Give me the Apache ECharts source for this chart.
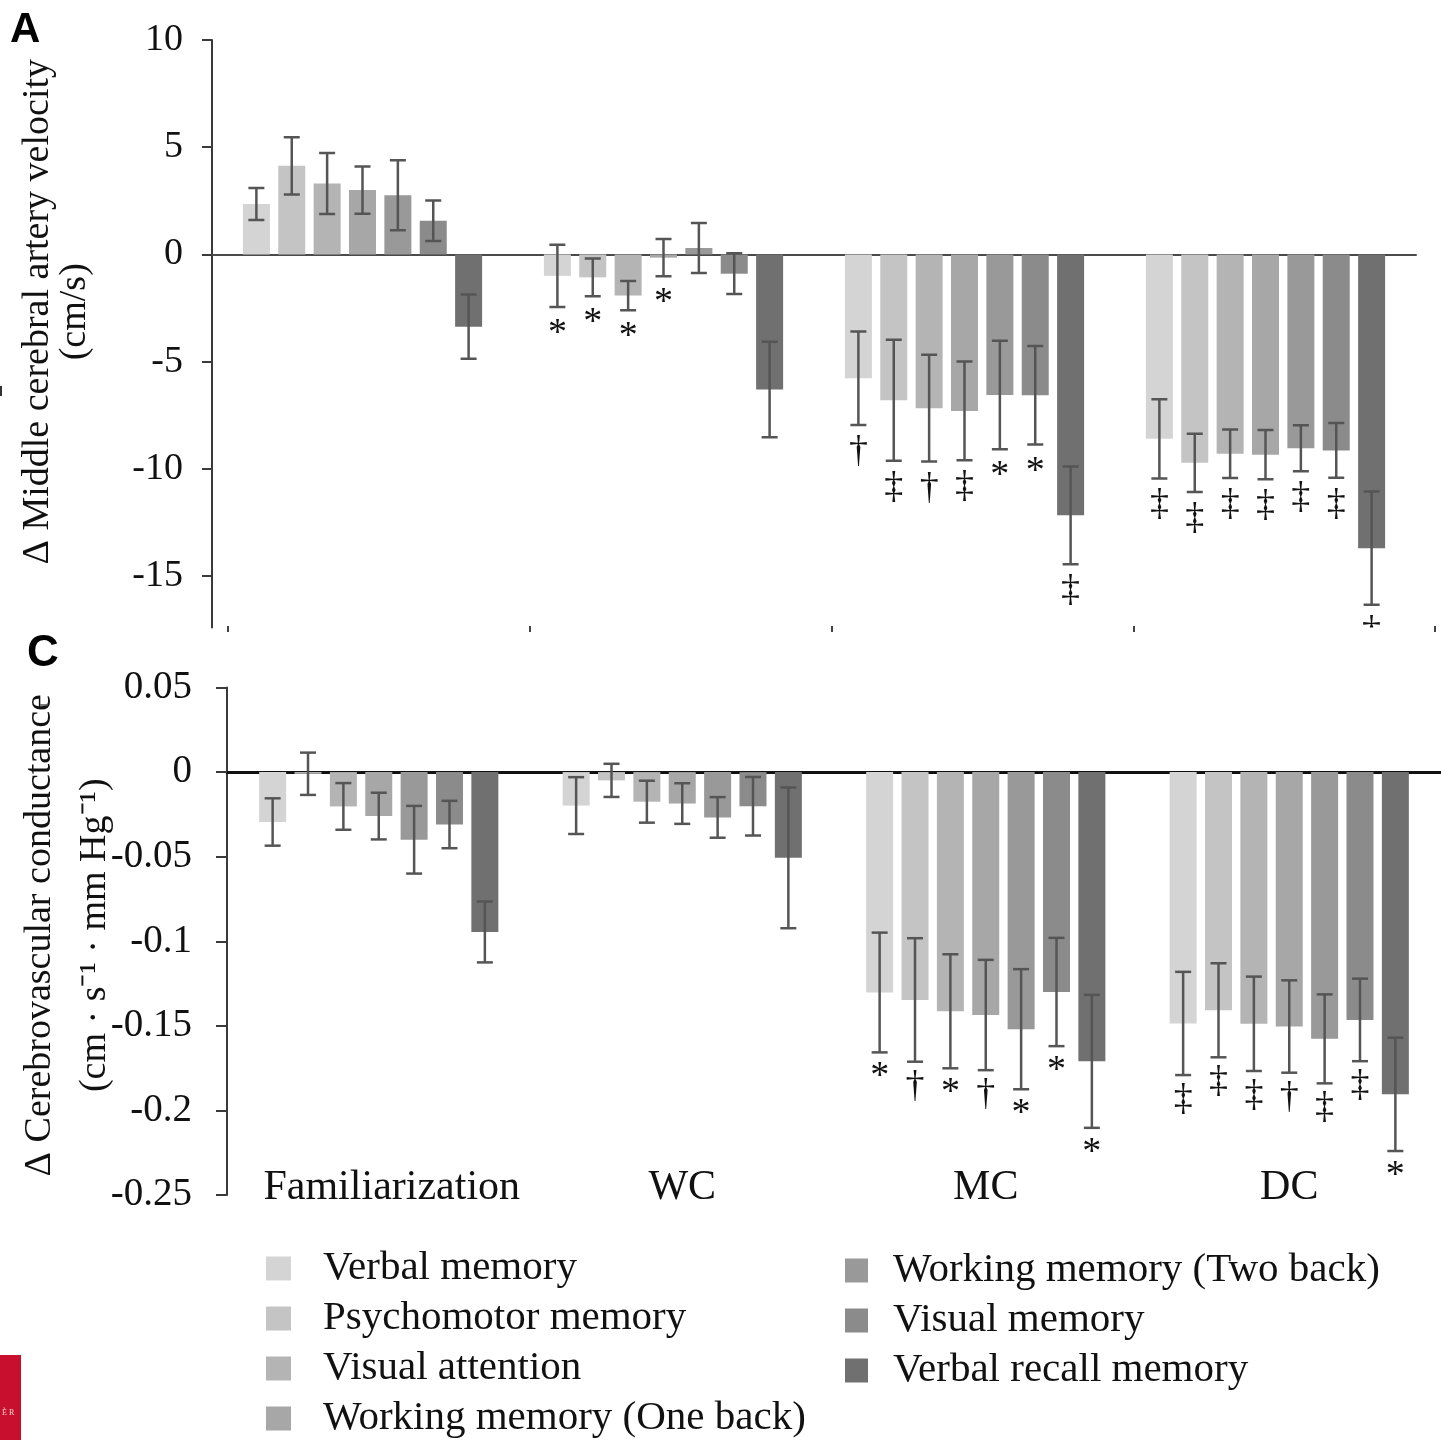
<!DOCTYPE html>
<html><head><meta charset="utf-8">
<script src="https://cdn.jsdelivr.net/npm/echarts@6/dist/echarts.min.js"></script>
<style>html,body{margin:0;padding:0;background:#fff}#c{width:1441px;height:1440px}</style>
</head><body><div id="c"></div>
<script>
// ---------- data ----------
const categories = ['Familiarization', 'WC', 'MC', 'DC'];
const seriesNames = ['Verbal memory', 'Psychomotor memory', 'Visual attention',
  'Working memory (One back)', 'Working memory (Two back)', 'Visual memory', 'Verbal recall memory'];

// Panel A: change in middle cerebral artery velocity (cm/s), rows = series, cols = categories
const mcavMean = [
  [2.35, -1.0, -5.78, -8.6],
  [4.13, -1.07, -6.8, -9.72],
  [3.31, -1.92, -7.17, -9.3],
  [3.0, -0.15, -7.3, -9.34],
  [2.76, 0.3, -6.56, -9.04],
  [1.57, -0.9, -6.57, -9.14],
  [-3.37, -6.3, -12.17, -13.7]
];
const mcavErr = [
  [0.75, 1.45, 2.18, 1.85],
  [1.33, 0.88, 2.82, 1.36],
  [1.42, 0.68, 2.49, 1.13],
  [1.1, 0.87, 2.3, 1.15],
  [1.63, 1.17, 2.53, 1.07],
  [0.95, 0.95, 2.3, 1.28],
  [1.5, 2.23, 2.28, 2.64]
];
const mcavSig = [
  ['', '*', '†', '‡'],
  ['', '*', '‡', '‡'],
  ['', '*', '†', '‡'],
  ['', '*', '‡', '‡'],
  ['', '', '*', '‡'],
  ['', '', '*', '‡'],
  ['', '', '‡', '‡']
];
const mcavTicks = [10, 5, 0, -5, -10, -15];

// Panel C: change in cerebrovascular conductance
const cvcMean = [
  [-0.0295, -0.0198, -0.1303, -0.1486],
  [-0.001, -0.0049, -0.1347, -0.1408],
  [-0.0203, -0.0175, -0.1414, -0.1488],
  [-0.026, -0.0186, -0.1436, -0.1504],
  [-0.04, -0.0268, -0.152, -0.1577],
  [-0.031, -0.0202, -0.13, -0.1465],
  [-0.0945, -0.0507, -0.171, -0.1905]
];
const cvcErr = [
  [0.014, 0.0168, 0.0354, 0.0305],
  [0.0125, 0.0098, 0.0365, 0.0278],
  [0.0138, 0.0124, 0.0337, 0.0279],
  [0.0138, 0.012, 0.0326, 0.0273],
  [0.02, 0.012, 0.0355, 0.0263],
  [0.014, 0.0173, 0.032, 0.0244],
  [0.018, 0.0416, 0.0393, 0.0335]
];
const cvcSig = [
  ['', '', '*', '‡'],
  ['', '', '†', '‡'],
  ['', '', '*', '‡'],
  ['', '', '†', '†'],
  ['', '', '*', '‡'],
  ['', '', '*', '‡'],
  ['', '', '*', '*']
];

// ---------- styles ----------
const barColors = ['#d4d4d4', '#c4c4c4', '#b4b4b4', '#a7a7a7', '#999999', '#8b8b8b', '#707070'];
const SERIF = '"Liberation Serif", "Times New Roman", serif';
const BAR_W = 27, BAR_GAP = 0.31;

function errData(meanArr, errArr) {
  const d = [];
  meanArr.forEach((row, s) => row.forEach((m, c) => d.push([c, s, m, errArr[s][c]])));
  return d;
}
function makeRender(sigArr, gapBelow) {
  return function (params, api) {
    const cat = api.value(0), s = api.value(1), m = api.value(2), e = api.value(3);
    const n = seriesNames.length;
    const step = BAR_W * (1 + BAR_GAP);
    const off = -((n - 1) * step) / 2 + s * step;
    const top = api.coord([cat, m + e]);
    const bot = api.coord([cat, m - e]);
    const x = top[0] + off;
    const cap = 8;
    const st = { stroke: '#555', lineWidth: 2.5 };
    const children = [
      { type: 'line', shape: { x1: x, y1: top[1], x2: x, y2: bot[1] }, style: st },
      { type: 'line', shape: { x1: x - cap, y1: top[1], x2: x + cap, y2: top[1] }, style: st },
      { type: 'line', shape: { x1: x - cap, y1: bot[1], x2: x + cap, y2: bot[1] }, style: st }
    ];
    const mark = sigArr[s][cat];
    if (mark) {
      children.push({ type: 'text', x: x, y: bot[1] + gapBelow,
        style: { text: mark, fill: '#111', fontSize: 38, fontFamily: SERIF, align: 'center', verticalAlign: 'top' } });
    }
    return { type: 'group', children: children };
  };
}

const series = [];
seriesNames.forEach((name, s) => {
  series.push({ type: 'bar', name: name, xAxisIndex: 0, yAxisIndex: 0, data: mcavMean[s],
    barWidth: BAR_W, barGap: (BAR_GAP * 100) + '%', itemStyle: { color: barColors[s] }, silent: true });
});
seriesNames.forEach((name, s) => {
  series.push({ type: 'bar', name: name, xAxisIndex: 1, yAxisIndex: 1, data: cvcMean[s],
    barWidth: BAR_W, barGap: (BAR_GAP * 100) + '%', itemStyle: { color: barColors[s] }, silent: true });
});
series.push({ type: 'custom', name: 'errA', xAxisIndex: 0, yAxisIndex: 0, z: 5, clip: true,
  data: errData(mcavMean, mcavErr), encode: { x: 0, y: 2 }, renderItem: makeRender(mcavSig, 8), silent: true });
series.push({ type: 'custom', name: 'errC', xAxisIndex: 1, yAxisIndex: 1, z: 5,
  data: errData(cvcMean, cvcErr), encode: { x: 0, y: 2 }, renderItem: makeRender(cvcSig, 6), silent: true });

const option = {
  animation: false,
  backgroundColor: '#fff',
  textStyle: { fontFamily: SERIF },
  grid: [
    { left: 212, top: 40, width: 1204, height: 587.5, outerBoundsMode: 'none', containLabel: false },
    { left: 227, top: 687.5, width: 1214, height: 507.5, outerBoundsMode: 'none', containLabel: false },
    { left: 228, top: 600, width: 1207, height: 26, outerBoundsMode: 'none', containLabel: false }
  ],
  xAxis: [
    { type: 'category', gridIndex: 0, data: categories,
      axisLine: { show: true, onZero: true, lineStyle: { color: '#4a4a4a', width: 2 } },
      axisTick: { show: false }, axisLabel: { show: false }, splitLine: { show: false } },
    { type: 'category', gridIndex: 1, data: categories,
      axisLine: { show: true, onZero: true, lineStyle: { color: '#111', width: 3 } },
      axisTick: { show: false }, axisLabel: { show: false }, splitLine: { show: false } },
    { type: 'category', gridIndex: 1, data: categories, position: 'bottom',
      axisLine: { show: false, onZero: false }, axisTick: { show: false },
      axisLabel: { show: true, interval: 0, hideOverlap: false, margin: -28, fontSize: 42, fontFamily: SERIF, color: '#111', verticalAlign: 'top',
        formatter: (v, i) => (i === 0 ? '{f|' + v + '}' : v),
        rich: { f: { fontSize: 42, fontFamily: SERIF, color: '#111', padding: [0, 0, 0, 26] } } } },
    { type: 'category', gridIndex: 2, data: categories, boundaryGap: true,
      axisLine: { show: false, onZero: false },
      axisTick: { show: true, length: 6, lineStyle: { color: '#444', width: 2 } },
      axisLabel: { show: false } }
  ],
  yAxis: [
    { type: 'value', gridIndex: 0, min: -17.4, max: 10,
      axisLine: { show: true, lineStyle: { color: '#3a3a3a', width: 2 } },
      axisTick: { show: true, length: 10, customValues: mcavTicks, lineStyle: { color: '#3a3a3a', width: 2 } },
      axisLabel: { customValues: mcavTicks, margin: 29, fontSize: 38, fontFamily: SERIF, color: '#111' },
      splitLine: { show: false },
      name: 'Δ Middle cerebral artery velocity\n(cm/s)', nameLocation: 'middle', nameRotate: 90, nameGap: 118,
      nameMoveOverlap: false,
      nameTextStyle: { fontSize: 38, fontFamily: SERIF, color: '#111', lineHeight: 37, padding: [0, 0, 0, 44] } },
    { type: 'value', gridIndex: 1, min: -0.25, max: 0.05, interval: 0.05,
      axisLine: { show: true, lineStyle: { color: '#3a3a3a', width: 2 } },
      axisTick: { show: true, length: 11, lineStyle: { color: '#3a3a3a', width: 2 } },
      axisLabel: { margin: 35, fontSize: 39, fontFamily: SERIF, color: '#111' },
      splitLine: { show: false },
      name: 'Δ Cerebrovascular conductance\n(cm · s⁻¹ · mm Hg⁻¹)', nameLocation: 'middle', nameRotate: 90, nameGap: 104,
      nameMoveOverlap: false,
      nameTextStyle: { fontSize: 38, fontFamily: SERIF, color: '#111', lineHeight: 55, padding: [0, 0, 0, 12] } },
    { type: 'value', gridIndex: 2, show: false }
  ],
  legend: [
    { data: seriesNames.slice(0, 4), orient: 'vertical', left: 266, top: 1248, height: 230, itemWidth: 25, itemHeight: 24,
      itemGap: 9, padding: 0, selectedMode: false, icon: 'rect',
      textStyle: { fontSize: 41, fontFamily: SERIF, color: '#111', lineHeight: 41, padding: [0, 0, 0, 27] } },
    { data: seriesNames.slice(4), orient: 'vertical', left: 845, top: 1250, height: 230, itemWidth: 23, itemHeight: 24,
      itemGap: 9, padding: 0, selectedMode: false, icon: 'rect',
      textStyle: { fontSize: 41, fontFamily: SERIF, color: '#111', lineHeight: 41, padding: [0, 0, 0, 20] } }
  ],
  graphic: [
    { type: 'text', x: 10, y: 30, z: 100, style: { text: 'A', fill: '#000', font: 'bold 42px "Liberation Sans", Arial, sans-serif', verticalAlign: 'middle' } },
    { type: 'text', x: 27, y: 654, z: 100, style: { text: 'C', fill: '#000', font: 'bold 44px "Liberation Sans", Arial, sans-serif', verticalAlign: 'middle' } },
    { type: 'line', z: 100, shape: { x1: 1, y1: 386, x2: 1, y2: 396 }, style: { stroke: '#333', lineWidth: 2 } },
    { type: 'line', z: 100, shape: { x1: 40, y1: 705, x2: 48, y2: 705 }, style: { stroke: '#555', lineWidth: 1.5 } },
    { type: 'rect', z: 100, shape: { x: 0, y: 1355, width: 21, height: 85 }, style: { fill: '#c8102e' } },
    { type: 'text', x: 2, y: 1413, z: 101, style: { text: 'È R', fill: '#f3d0d0', font: '8px "Liberation Serif"', verticalAlign: 'middle' } }
  ],
  series: series
};
const chart = echarts.init(document.getElementById('c'), null, { renderer: 'canvas' });
chart.setOption(option);
</script>
</body></html>
